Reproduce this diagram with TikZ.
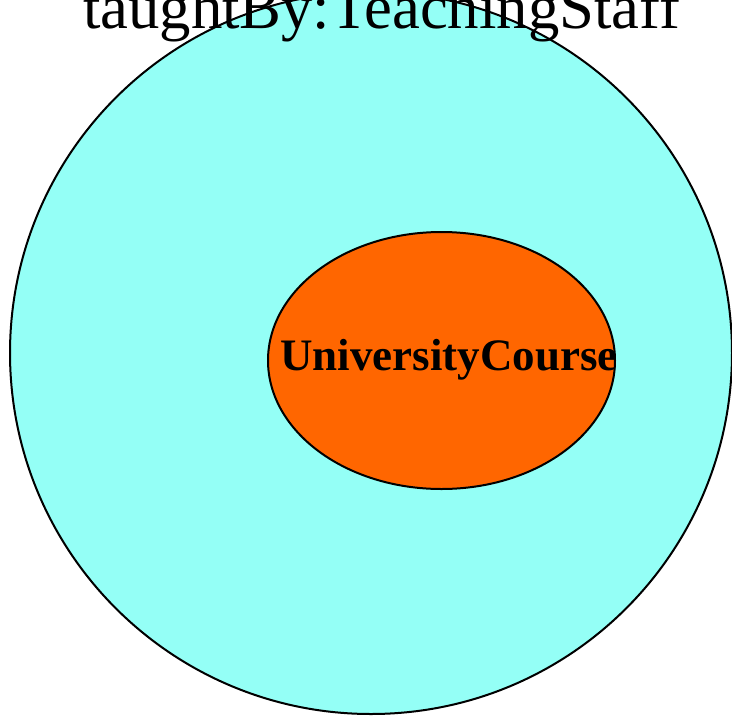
\documentclass[tikz,border=0pt]{standalone}
\usepackage{fontspec}
\setmainfont{Liberation Serif}
\usetikzlibrary{shapes.geometric}
\definecolor{outerfill}{RGB}{148,255,246}
\definecolor{innerfill}{RGB}{255,102,0}
\tikzset{
  blob/.style={ellipse, draw=black, line width=2pt, inner sep=0pt},
}
\begin{document}
\begin{tikzpicture}[x=1pt,y=-1pt]
\useasboundingbox (0,0) rectangle (732,716);
\node[blob, fill=outerfill, minimum width=722pt, minimum height=722pt] (outer) at (371,353) {};
\node[blob, fill=innerfill, minimum width=347pt, minimum height=257pt] (inner) at (441.5,360.5) {};
\node[anchor=base, font=\fontsize{45}{50}\selectfont\bfseries] (innerlabel) at (449,370) {UniversityCourse};
\node[anchor=base, font=\fontsize{62.7}{70}\selectfont] (outerlabel) at (381.5,28) {taughtBy:TeachingStaff};
\end{tikzpicture}
\end{document}
